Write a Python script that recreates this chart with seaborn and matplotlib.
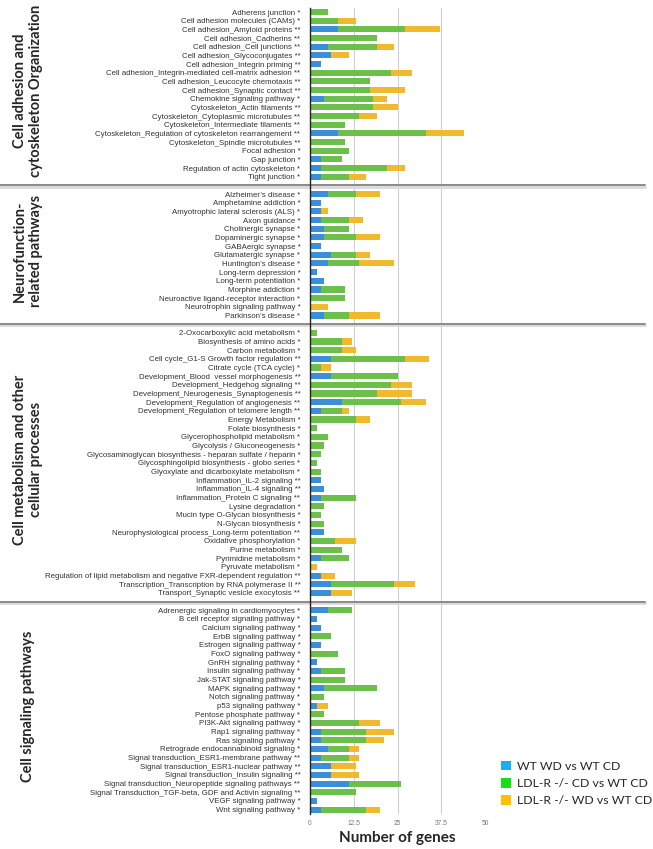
#!/usr/bin/env python3
"""
Stacked horizontal bars: number of genes per pathway, grouped by pathway class.
"""

import pandas as pd
import matplotlib.pyplot as plt
import seaborn as sns
from matplotlib.patches import Patch
from matplotlib.transforms import blended_transform_factory

# ---- data -------------------------------------------------------------
GROUP_NAMES = [
    "Cell adhesion and\ncytoskeleton Organization",
    "Neurofunction-\nrelated pathways",
    "Cell metabolism and other\ncellular processes",
    "Cell signaling pathways",
]

adhesion_labels = [
    "Adherens junction *",
    "Cell adhesion molecules (CAMs) *",
    "Cell adhesion_Amyloid proteins **",
    "Cell adhesion_Cadherins **",
    "Cell adhesion_Cell junctions **",
    "Cell adhesion_Glycoconjugates **",
    "Cell adhesion_Integrin priming **",
    "Cell adhesion_Integrin-mediated cell-matrix adhesion **",
    "Cell adhesion_Leucocyte chemotaxis **",
    "Cell adhesion_Synaptic contact **",
    "Chemokine signaling pathway *",
    "Cytoskeleton_Actin filaments **",
    "Cytoskeleton_Cytoplasmic microtubules **",
    "Cytoskeleton_Intermediate filaments **",
    "Cytoskeleton_Regulation of cytoskeleton rearrangement **",
    "Cytoskeleton_Spindle microtubules **",
    "Focal adhesion *",
    "Gap junction *",
    "Regulation of actin cytoskeleton *",
    "Tight junction *",
]
adhesion_wt_wd = [0, 0, 8, 0, 5, 6, 3, 0, 0, 0, 4, 0, 0, 0, 8, 0, 0, 3, 3, 3]
adhesion_ko_cd = [5, 8, 19, 19, 14, 0, 0, 23, 17, 17, 14, 18, 14, 10, 25, 10, 11, 6, 19, 8]
adhesion_ko_wd = [0, 5, 10, 0, 5, 5, 0, 6, 0, 10, 4, 7, 5, 0, 11, 0, 0, 0, 5, 5]

neuro_labels = [
    "Alzheimer’s disease *",
    "Amphetamine addiction *",
    "Amyotrophic lateral sclerosis (ALS) *",
    "Axon guidance *",
    "Cholinergic synapse *",
    "Dopaminergic synapse *",
    "GABAergic synapse *",
    "Glutamatergic synapse *",
    "Huntington’s disease *",
    "Long-term depression *",
    "Long-term potentiation *",
    "Morphine addiction *",
    "Neuroactive ligand-receptor interaction *",
    "Neurotrophin signaling pathway *",
    "Parkinson’s disease *",
]
neuro_wt_wd = [5, 3, 3, 3, 4, 4, 3, 6, 5, 2, 4, 3, 0, 0, 4]
neuro_ko_cd = [8, 0, 0, 8, 7, 9, 0, 7, 9, 0, 0, 7, 10, 0, 7]
neuro_ko_wd = [7, 0, 2, 4, 0, 7, 0, 4, 10, 0, 0, 0, 0, 5, 9]

metab_labels = [
    "2-Oxocarboxylic acid metabolism *",
    "Biosynthesis of amino acids *",
    "Carbon metabolism *",
    "Cell cycle_G1-S Growth factor regulation **",
    "Citrate cycle (TCA cycle) *",
    "Development_Blood  vessel morphogenesis **",
    "Development_Hedgehog signaling **",
    "Development_Neurogenesis_Synaptogenesis **",
    "Development_Regulation of angiogenesis **",
    "Development_Regulation of telomere length **",
    "Energy Metabolism *",
    "Folate biosynthesis *",
    "Glycerophospholipid metabolism *",
    "Glycolysis / Gluconeogenesis *",
    "Glycosaminoglycan biosynthesis - heparan sulfate / heparin *",
    "Glycosphingolipid biosynthesis - globo series *",
    "Glyoxylate and dicarboxylate metabolism *",
    "Inflammation_IL-2 signaling **",
    "Inflammation_IL-4 signaling **",
    "Inflammation_Protein C signaling **",
    "Lysine degradation *",
    "Mucin type O-Glycan biosynthesis *",
    "N-Glycan biosynthesis *",
    "Neurophysiological process_Long-term potentiation **",
    "Oxidative phosphorylation *",
    "Purine metabolism *",
    "Pyrimidine metabolism *",
    "Pyruvate metabolism *",
    "Regulation of lipid metabolism and negative FXR-dependent regulation **",
    "Transcription_Transcription by RNA polymerase II **",
    "Transport_Synaptic vesicle exocytosis **",
]
metab_wt_wd = [0, 0, 0, 6, 0, 6, 0, 0, 9, 3, 0, 0, 0, 0, 0, 0, 0, 3, 4, 3,
               0, 0, 0, 4, 0, 0, 3, 0, 3, 6, 6]
metab_ko_cd = [2, 9, 9, 21, 3, 19, 23, 19, 17, 6, 13, 2, 5, 4, 3, 2, 3, 0, 0, 10,
               4, 3, 4, 0, 7, 9, 8, 0, 0, 18, 0]
metab_ko_wd = [0, 3, 4, 7, 3, 0, 6, 10, 7, 2, 4, 0, 0, 0, 0, 0, 0, 0, 0, 0,
               0, 0, 0, 0, 6, 0, 0, 2, 4, 6, 6]

signal_labels = [
    "Adrenergic signaling in cardiomyocytes *",
    "B cell receptor signaling pathway *",
    "Calcium signaling pathway *",
    "ErbB signaling pathway *",
    "Estrogen signaling pathway *",
    "FoxO signaling pathway *",
    "GnRH signaling pathway *",
    "Insulin signaling pathway *",
    "Jak-STAT signaling pathway *",
    "MAPK signaling pathway *",
    "Notch signaling pathway *",
    "p53 signaling pathway *",
    "Pentose phosphate pathway *",
    "PI3K-Akt signaling pathway *",
    "Rap1 signaling pathway *",
    "Ras signaling pathway *",
    "Retrograde endocannabinoid signaling *",
    "Signal transduction_ESR1-membrane pathway **",
    "Signal transduction_ESR1-nuclear pathway **",
    "Signal transduction_Insulin signaling **",
    "Signal transduction_Neuropeptide signaling pathways **",
    "Signal Transduction_TGF-beta, GDF and Activin signaling **",
    "VEGF signaling pathway *",
    "Wnt signaling pathway *",
]
signal_wt_wd = [5, 2, 3, 0, 3, 0, 2, 3, 0, 4, 0, 2, 0, 0, 3, 3, 5, 3, 6, 6, 11, 0, 2, 3]
signal_ko_cd = [7, 0, 0, 6, 0, 8, 0, 7, 10, 15, 4, 0, 4, 14, 13, 13, 6, 8, 0, 0, 15, 13, 0, 13]
signal_ko_wd = [0, 0, 0, 0, 0, 0, 0, 0, 0, 0, 0, 3, 0, 6, 8, 5, 3, 3, 7, 8, 0, 0, 0, 4]

SERIES = ["WT WD vs WT CD", "LDL-R -/- CD vs WT CD", "LDL-R -/- WD vs WT CD"]
BAR_COLORS = ["#3b8fd8", "#6cbf4a", "#f1b92e"]
LEGEND_COLORS = ["#18aef0", "#14e014", "#ffc000"]
XTICKS = [0, 12.5, 25, 37.5, 50]
XTICK_LABELS = ["0", "12.5", "25", "37.5", "50"]


def build_frame():
    groups = [
        (adhesion_labels, adhesion_wt_wd, adhesion_ko_cd, adhesion_ko_wd),
        (neuro_labels, neuro_wt_wd, neuro_ko_cd, neuro_ko_wd),
        (metab_labels, metab_wt_wd, metab_ko_cd, metab_ko_wd),
        (signal_labels, signal_wt_wd, signal_ko_cd, signal_ko_wd),
    ]
    rows, spans, gaps = [], [], []
    for gi, (labels, a, b, c) in enumerate(groups):
        if gi > 0:
            gaps.append(len(rows))
            rows.append(dict(key=f"_gap{gi}", label="", a=0, b=0, c=0))
        start = len(rows)
        for lab, va, vb, vc in zip(labels, a, b, c):
            rows.append(dict(key=lab, label=lab, a=va, b=vb, c=vc))
        spans.append((start, len(rows) - 1))
    df = pd.DataFrame(rows)
    # cumulative ends so overlaid bars look stacked
    df["cum_a"] = df["a"]
    df["cum_b"] = df["a"] + df["b"]
    df["cum_c"] = df["a"] + df["b"] + df["c"]
    return df, spans, gaps


def main():
    df, spans, gaps = build_frame()
    n = len(df)

    sns.set_theme(style="white")
    fig = plt.figure(figsize=(6.53, 8.49), dpi=100)
    W, H = 653, 849
    ax = fig.add_axes([310 / W, 1 - 814 / H, 175.3 / W, (814 - 7.7) / H])

    order = list(df["key"])
    for col, color in zip(["cum_c", "cum_b", "cum_a"], BAR_COLORS[::-1]):
        sns.barplot(data=df, x=col, y="key", order=order, orient="h",
                    color=color, width=0.7, errorbar=None, ax=ax,
                    saturation=1, linewidth=0)

    ax.set_xlim(0, 50)
    ax.set_ylim(n - 0.5, -0.5)
    ax.set_xticks(XTICKS)
    ax.set_xticklabels(XTICK_LABELS, fontsize=4.8, color="#777777",
                       family="Liberation Sans")
    ax.set_yticks(range(n))
    ax.set_yticklabels(df["label"], fontsize=5.7, color="#333333",
                       family="Liberation Sans")
    ax.tick_params(axis="y", length=0, pad=7)
    ax.tick_params(axis="x", length=0, pad=4)
    ax.set_ylabel("")
    ax.set_xlabel("Number of genes", fontsize=11, fontweight="bold",
                  family="Lato", labelpad=3)

    ax.xaxis.grid(True, color="#cfcfcf", linewidth=0.8)
    ax.set_axisbelow(True)
    for side in ["top", "right", "bottom"]:
        ax.spines[side].set_visible(False)
    ax.spines["left"].set_color("#222222")
    ax.spines["left"].set_linewidth(1.0)
    ax.spines["left"].set_zorder(5)

    # group separators spanning the figure width
    trans = ax.get_yaxis_transform()
    x0, x1 = -310 / 175.3, (645 - 310) / 175.3
    for g in gaps:
        ax.plot([x0, x1], [g + 0.15, g + 0.15], transform=trans, clip_on=False,
                color="#d9d9d9", linewidth=2.0, zorder=4)
        ax.plot([x0, x1], [g, g], transform=trans, clip_on=False,
                color="#8a8a8a", linewidth=1.4, zorder=4)

    # rotated group titles on the left
    gtrans = blended_transform_factory(fig.transFigure, ax.transData)
    for name, (s, e) in zip(GROUP_NAMES, spans):
        ax.text(28 / W, (s + e) / 2 - 0.4, name, transform=gtrans,
                rotation=90, ha="center", va="center", fontsize=10.5,
                fontweight="bold", family="Lato", linespacing=1.2,
                multialignment="center")

    handles = [Patch(facecolor=c, edgecolor="none") for c in LEGEND_COLORS]
    fig.legend(handles, SERIES, loc="upper left",
               bbox_to_anchor=(501 / W, 1 - 761 / H), frameon=False,
               prop={"family": "Lato", "size": 8.8},
               handlelength=0.8, handleheight=0.8, handletextpad=0.5,
               labelspacing=0.5, borderpad=0, borderaxespad=0)

    plt.savefig("out.png", dpi=100)
    plt.close()


if __name__ == "__main__":
    main()
